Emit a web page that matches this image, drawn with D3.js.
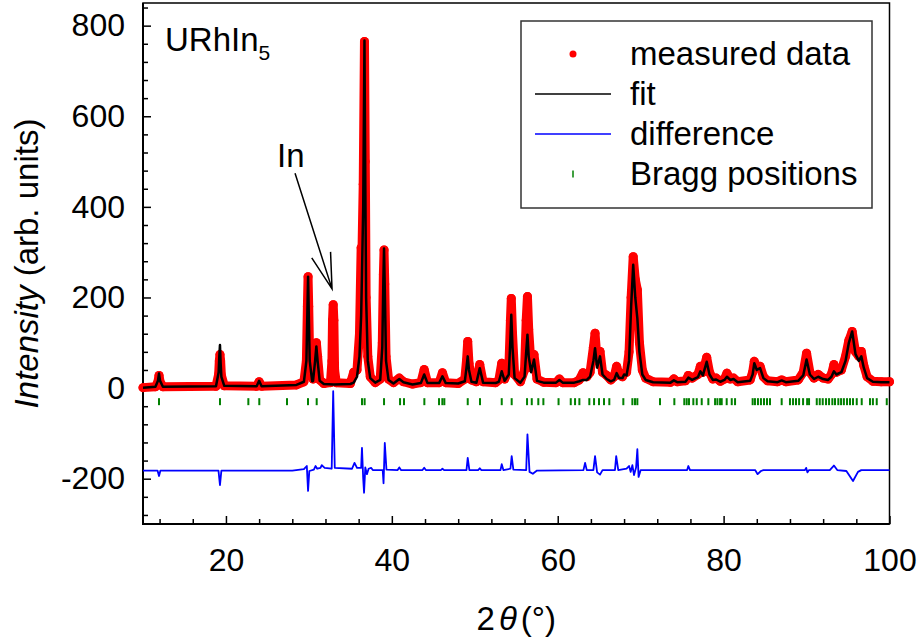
<!DOCTYPE html>
<html>
<head>
<meta charset="utf-8">
<script src="https://cdn.jsdelivr.net/npm/d3@7"></script>
<style>
  body { margin: 0; background: #fff; }
  svg text { font-family: "Liberation Sans", Arial, sans-serif; fill: #000; }
</style>
</head>
<body>
<div id="chart"></div>
<script>
// ---- data: [2theta, intensity] ----
const measuredData = [
  [10.0,1],[11.5,3],[11.8,14],[11.93,28],[12.06,14],[12.4,3],
  [18.8,4],[19.12,30],[19.2,60],[19.28,74],[19.36,60],[19.45,28],[19.8,5],
  [23.7,4],[24.0,14],[24.3,4],
  [28.5,7],[29.4,14],[29.7,60],[29.82,180],[29.9,246],[29.98,180],[30.1,60],[30.4,25],[30.5,20],
  [30.75,70],[30.9,100],[31.05,70],[31.3,18],[31.8,10],
  [32.6,12],[32.78,60],[32.85,150],[32.93,184],[33.01,150],[33.1,40],[33.3,12],
  [35.0,10],[35.4,35],[35.8,40],[36.1,120],[36.3,310],[36.4,300],[36.55,450],[36.7,765],[36.8,500],
  [36.9,200],[37.1,70],[37.4,25],[38.0,12],
  [38.6,20],[38.85,100],[38.98,250],[39.06,305],[39.15,230],[39.3,70],[39.6,20],[40.2,12],[40.9,22],
  [41.4,14],[42.5,9],
  [43.5,12],[43.9,41],[44.3,12],[45.7,12],[46.1,34],[46.5,12],[48.0,10],
  [48.8,20],[49.0,60],[49.15,103],[49.3,55],[49.6,18],[50.2,14],[50.6,52],[51.0,14],[52.5,12],
  [52.9,18],[53.25,55],[53.6,20],[54.1,40],[54.3,150],[54.4,198],[54.55,120],[54.8,30],[55.5,14],
  [56.0,40],[56.2,150],[56.35,202],[56.5,130],[56.8,45],[57.14,74],[57.5,20],[58.3,13],
  [59.8,12],[60.2,20],[60.6,12],[62.0,12],[62.6,18],[63.05,34],[63.5,25],
  [63.9,35],[64.3,90],[64.5,121],[64.75,60],[65.1,81],[65.4,35],[65.9,28],[66.4,18],
  [66.8,25],[67.1,48],[67.4,30],[67.8,25],[68.0,32],[68.3,35],
  [68.6,80],[68.85,200],[69.1,290],[69.35,240],[69.6,217],[69.85,100],[70.2,40],[70.6,22],[71.5,14],
  [73.6,13],[74.0,20],[74.4,14],[75.4,16],[75.75,28],[76.2,22],
  [76.9,30],[77.2,48],[77.5,35],[77.96,68],[78.3,35],[78.7,20],[79.1,22],[79.6,15],
  [80.1,20],[80.4,33],[80.8,20],[81.2,22],[81.7,14],
  [83.2,18],[83.5,35],[83.7,59],[84.0,45],[84.4,48],[84.8,25],[85.3,16],[86.5,14],[87.0,18],[87.5,14],
  [89.0,18],[89.6,35],[90.0,77],[90.4,35],[90.9,22],[91.4,30],[92.0,22],[92.6,20],
  [93.0,30],[93.3,52],[93.6,35],[94.2,40],
  [94.7,70],[95.1,105],[95.5,125],[95.9,80],[96.3,70],[96.6,81],[96.9,50],[97.3,25],[98.0,15],
  [99.0,14],[100.0,14]
];

const fitData = [
  [10.0,1],[11.5,3],[11.8,16],[11.93,32],[12.06,16],[12.4,3],
  [18.8,4],[19.12,35],[19.2,70],[19.28,95],[19.36,55],[19.45,25],[19.8,5],
  [23.7,4],[24.0,16],[24.3,4],
  [28.5,7],[29.4,14],[29.7,60],[29.82,170],[29.9,246],[29.98,170],[30.1,60],[30.4,15],[30.5,16],
  [30.75,60],[30.9,92],[31.05,60],[31.3,16],[31.8,9],
  [33.0,8],
  [35.0,9],[35.4,12],[35.8,25],[36.1,70],[36.3,160],[36.4,250],[36.55,400],[36.7,767],[36.8,450],
  [36.9,200],[37.1,60],[37.4,22],[38.0,12],
  [38.6,18],[38.85,90],[38.98,240],[39.06,308],[39.15,220],[39.3,60],[39.6,18],[40.2,10],[40.9,20],
  [41.4,13],[42.5,8],
  [43.5,11],[43.9,30],[44.3,11],[45.7,11],[46.1,26],[46.5,11],[48.0,10],
  [48.8,15],[49.0,45],[49.15,70],[49.3,40],[49.6,14],[50.2,12],[50.6,44],[51.0,12],[52.5,11],
  [52.9,14],[53.25,37],[53.6,16],[54.1,30],[54.3,110],[54.4,162],[54.55,90],[54.8,22],[55.5,12],
  [56.0,25],[56.2,80],[56.35,118],[56.5,70],[56.8,35],[57.14,63],[57.5,16],[58.3,12],
  [59.8,12],[60.2,18],[60.6,12],[62.0,12],[62.6,15],[63.05,18],[63.5,18],
  [63.9,25],[64.3,60],[64.5,88],[64.75,45],[65.1,70],[65.4,30],[65.9,20],[66.4,15],
  [66.8,18],[67.1,33],[67.4,22],[67.8,22],[68.0,30],[68.3,28],
  [68.6,60],[68.85,180],[69.1,272],[69.35,200],[69.6,154],[69.85,80],[70.2,30],[70.6,18],[71.5,13],
  [73.6,12],[74.0,17],[74.4,13],[75.4,14],[75.75,23],[76.2,18],
  [76.9,24],[77.2,37],[77.5,28],[77.96,58],[78.3,30],[78.7,18],[79.1,19],[79.6,14],
  [80.1,18],[80.4,25],[80.8,18],[81.2,20],[81.7,13],
  [83.2,16],[83.5,30],[83.7,55],[84.0,40],[84.4,44],[84.8,22],[85.3,15],[86.5,13],[87.0,17],[87.5,13],
  [89.0,16],[89.6,28],[90.0,63],[90.4,30],[90.9,20],[91.4,25],[92.0,20],[92.6,18],
  [93.0,25],[93.3,37],[93.6,30],[94.2,35],
  [94.7,60],[95.1,100],[95.5,125],[95.9,75],[96.3,60],[96.6,70],[96.9,45],[97.3,22],[98.0,14],
  [99.0,13],[100.0,13]
];

// difference curve, already shifted down as in the plot
const differenceData = [
  [10,-182],[11.75,-182],[11.93,-194],[12.1,-182],[19.1,-182],[19.28,-214],[19.45,-182],
  [28.0,-182],[29.4,-179],[29.75,-172],[29.9,-227],[30.05,-183],[30.6,-180],[30.8,-172],[31.0,-178],
  [31.4,-176],[31.55,-170],[31.9,-176],[32.75,-178],[32.93,-7],[33.12,-176],[35.2,-178],[35.5,-165],
  [35.8,-176],[36.3,-176],[36.4,-132],[36.55,-200],[36.65,-231],[36.8,-175],[37.0,-190],[37.2,-178],
  [37.5,-176],[37.7,-181],[38.9,-181],[39.0,-210],[39.15,-121],[39.35,-180],[40.7,-181],[40.9,-175],
  [41.1,-181],[43.7,-181],[43.9,-176],[44.1,-181],[45.9,-181],[46.1,-178],[46.3,-181],[49.0,-181],
  [49.15,-154],[49.35,-181],[50.4,-181],[50.6,-177],[50.8,-181],[53.1,-181],[53.25,-168],[53.45,-181],
  [54.3,-178],[54.45,-150],[54.65,-180],[56.2,-181],[56.35,-102],[56.6,-185],[57.0,-189],[57.5,-182],
  [63.1,-181],[63.3,-165],[63.5,-181],[64.3,-181],[64.5,-150],[64.75,-186],[65.1,-191],[65.4,-181],
  [66.9,-181],[67.05,-150],[67.3,-181],[68.3,-178],[68.6,-172],[68.8,-185],[69.0,-170],[69.2,-192],
  [69.45,-175],[69.6,-135],[69.75,-196],[70.0,-181],[75.6,-181],[75.75,-172],[75.95,-181],[83.8,-181],
  [84.1,-190],[84.5,-183],[84.8,-181],[89.8,-181],[89.95,-176],[90.1,-186],[90.3,-181],[92.8,-181],
  [93.3,-171],[93.7,-181],[94.8,-183],[95.6,-205],[96.2,-185],[96.6,-181],[100,-181]
];

const braggPositions = [
  11.93, 19.28, 22.70, 24.02, 27.36, 29.89, 30.94, 36.40, 36.72, 39.06, 40.99, 41.47, 43.92,
  45.69, 46.09, 46.33, 49.15, 50.63, 53.25, 54.45, 56.30, 56.87, 57.66, 58.27, 60.10, 61.57,
  62.09, 62.61, 63.81, 64.38, 64.98, 65.58, 66.22, 67.91, 69.0, 69.32, 69.6, 72.33, 74.06,
  75.26, 75.55, 75.83, 76.35, 76.76, 77.36, 78.16, 78.97, 79.25, 79.57, 79.77, 80.37, 80.98,
  81.38, 83.5, 83.78, 84.14, 84.5, 84.87, 85.23, 85.59, 87.0, 88.0, 88.37, 88.73, 89.1, 89.58,
  90.07, 90.3, 91.23, 91.59, 91.95, 92.35, 92.71, 93.11, 93.43, 93.83, 94.16, 94.5, 94.88,
  95.24, 95.6, 96.05, 96.65, 97.65, 98.0, 98.46, 99.67
];
const braggLevel = -30;

const xMajorTicks = [20, 40, 60, 80, 100];
const xMinorTicks = [12, 16, 24, 28, 32, 36, 44, 48, 52, 56, 64, 68, 72, 76, 84, 88, 92, 96];
const yMajorTicks = [-200, 0, 200, 400, 600, 800];
const yMinorTicks = [-280, -240, -160, -120, -80, -40, 40, 80, 120, 160, 240, 280, 320, 360,
  440, 480, 520, 560, 640, 680, 720, 760, 840];
const legendLabels = ["measured data", "fit", "difference", "Bragg positions"];

// ---- layout ----
const width = 921, height = 641;
const margin = {top: 3, right: 31.5, bottom: 117, left: 143};

const svg = d3.select("#chart")
    .append("svg")
    .attr("width", width)
    .attr("height", height);

const x = d3.scaleLinear().domain([10, 100]).range([margin.left, width - margin.right]);
const y = d3.scaleLinear().domain([-300, 850]).range([height - margin.bottom, margin.top]);

// axes (ticks pointing inwards)
function styleAxis(g, size) {
    g.select(".domain").remove();
    g.attr("font-size", size).attr("font-family", "'Liberation Sans', Arial, sans-serif");
    g.selectAll(".tick line").attr("stroke", "#000").attr("stroke-width", 1.5);
}

svg.append("g")
    .attr("transform", `translate(0,${y(-300)})`)
    .call(d3.axisBottom(x).tickValues(xMinorTicks).tickSize(-5).tickFormat(""))
    .call(g => styleAxis(g, 32));
svg.append("g")
    .attr("transform", `translate(0,${y(-300)})`)
    .call(d3.axisBottom(x).tickValues(xMajorTicks).tickSizeInner(-8).tickSizeOuter(0)
        .tickPadding(24).tickFormat(d => d))
    .call(g => styleAxis(g, 32));

svg.append("g")
    .attr("transform", `translate(${x(10)},0)`)
    .call(d3.axisLeft(y).tickValues(yMinorTicks).tickSize(-5).tickFormat(""))
    .call(g => styleAxis(g, 32));
svg.append("g")
    .attr("transform", `translate(${x(10)},0)`)
    .call(d3.axisLeft(y).tickValues(yMajorTicks).tickSizeInner(-8).tickSizeOuter(0)
        .tickPadding(18).tickFormat(d => String(d)))
    .call(g => styleAxis(g, 32));

// frame
svg.append("rect")
    .attr("x", x(10)).attr("y", y(850))
    .attr("width", x(100) - x(10)).attr("height", y(-300) - y(850))
    .attr("fill", "none").attr("stroke", "#000").attr("stroke-width", 1.5);
svg.append("path")
    .attr("d", `M${x(10)},${y(850)}V${y(-300)}H${x(100)}`)
    .attr("fill", "none").attr("stroke", "#000").attr("stroke-width", 2);

const line = d3.line().x(d => x(d[0])).y(d => y(d[1]));

// measured data: dense red dots -> thick band plus dots
svg.append("path")
    .datum(measuredData)
    .attr("d", line)
    .attr("fill", "none")
    .attr("stroke", "#ff0000")
    .attr("stroke-width", 9)
    .attr("stroke-linejoin", "round")
    .attr("stroke-linecap", "round");
svg.append("g")
    .selectAll("circle")
    .data(measuredData)
    .join("circle")
    .attr("cx", d => x(d[0]))
    .attr("cy", d => y(d[1]))
    .attr("r", 4.5)
    .attr("fill", "#ff0000");

// fit
svg.append("path")
    .datum(fitData)
    .attr("d", line)
    .attr("fill", "none")
    .attr("stroke", "#000")
    .attr("stroke-width", 2.5)
    .attr("stroke-linejoin", "round");

// difference
svg.append("path")
    .datum(differenceData)
    .attr("d", line)
    .attr("fill", "none")
    .attr("stroke", "#0000ff")
    .attr("stroke-width", 1.8)
    .attr("stroke-linejoin", "round");

// Bragg positions
svg.append("g")
    .selectAll("line")
    .data(braggPositions)
    .join("line")
    .attr("x1", d => x(d)).attr("x2", d => x(d))
    .attr("y1", y(braggLevel) - 3.5).attr("y2", y(braggLevel) + 3.5)
    .attr("stroke", "#008000")
    .attr("stroke-width", 2);

// compound label
const comp = svg.append("text")
    .attr("x", 165).attr("y", 51)
    .attr("font-size", 33);
comp.append("tspan").text("URhIn");
comp.append("tspan").attr("font-size", 21).attr("dy", 9).text("5");

// "In" annotation with open arrow
const arrowFrom = [28.33, 474], arrowTo = [32.79, 219];
svg.append("text")
    .attr("x", x(26.16)).attr("y", y(488))
    .attr("font-size", 33)
    .text("In");
const ax1 = x(arrowFrom[0]), ay1 = y(arrowFrom[1]);
const ax2 = x(arrowTo[0]), ay2 = y(arrowTo[1]);
const ang = Math.atan2(ay1 - ay2, ax1 - ax2);
const head = [-0.27, 0.27].map(da => [ax2 + 37 * Math.cos(ang + da), ay2 + 37 * Math.sin(ang + da)]);
svg.append("path")
    .attr("d", `M${ax1},${ay1}L${ax2},${ay2}M${head[0][0]},${head[0][1]}L${ax2},${ay2}L${head[1][0]},${head[1][1]}`)
    .attr("fill", "none")
    .attr("stroke", "#000")
    .attr("stroke-width", 1.5);

// legend
const legend = svg.append("g");
legend.append("rect")
    .attr("x", 521).attr("y", 21)
    .attr("width", 351).attr("height", 187)
    .attr("fill", "#fff")
    .attr("stroke", "#333")
    .attr("stroke-width", 1.5);

legendLabels.forEach((label, i) => {
    const cy = 54 + 40 * i;
    if (i === 0) {
        legend.append("circle").attr("cx", 573).attr("cy", cy).attr("r", 3.5).attr("fill", "#ff0000");
    } else if (i === 3) {
        legend.append("line").attr("x1", 573).attr("x2", 573).attr("y1", cy - 3.5).attr("y2", cy + 3.5)
            .attr("stroke", "#008000").attr("stroke-width", 1.5);
    } else {
        legend.append("line").attr("x1", 535).attr("x2", 611).attr("y1", cy).attr("y2", cy)
            .attr("stroke", i === 1 ? "#000" : "#0000ff").attr("stroke-width", 1.5);
    }
    legend.append("text")
        .attr("x", 630).attr("y", cy + 11)
        .attr("font-size", 33)
        .text(label);
});

// axis titles
const xTitle = svg.append("text")
    .attr("x", (x(10) + x(100)) / 2).attr("y", 630)
    .attr("text-anchor", "middle")
    .attr("font-size", 33);
xTitle.append("tspan").text("2");
xTitle.append("tspan").attr("font-style", "italic").attr("dx", 4).text("θ");
xTitle.append("tspan").attr("dx", 4).text("(°)");

const yTitle = svg.append("text")
    .attr("transform", `translate(38,${(y(850) + y(-300)) / 2}) rotate(-90)`)
    .attr("text-anchor", "middle")
    .attr("font-size", 33);
yTitle.append("tspan").attr("font-style", "italic").text("Intensity");
yTitle.append("tspan").text(" (arb. units)");
</script>
</body>
</html>
